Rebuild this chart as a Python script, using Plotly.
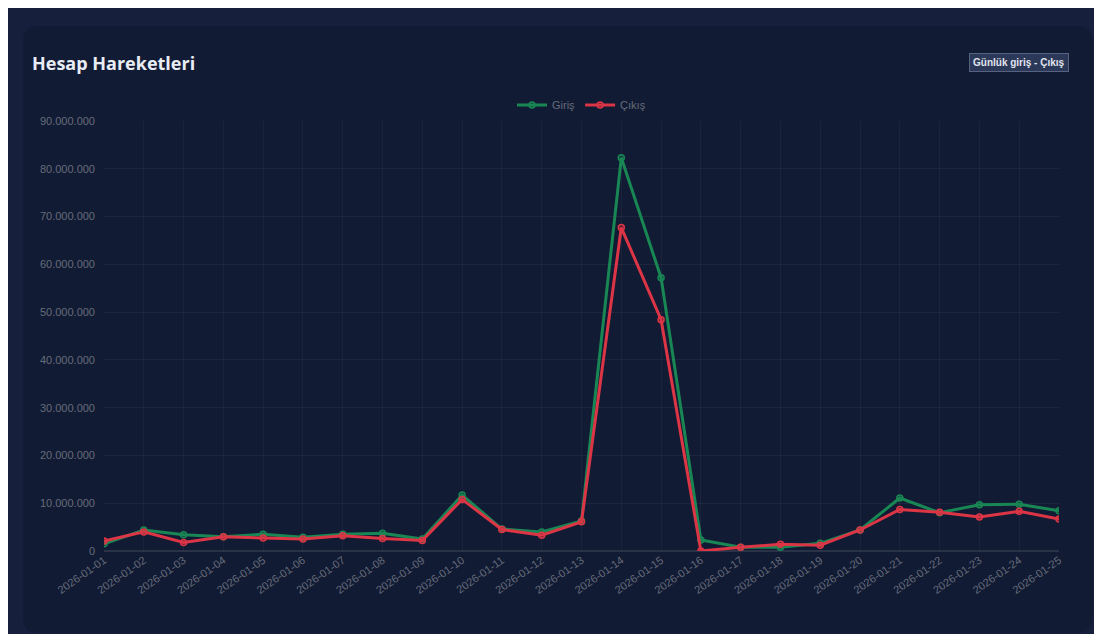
import re
import plotly.graph_objects as go

dates = ["2026-01-%02d" % d for d in range(1, 26)]
giris = [1.5, 4.4, 3.4, 3.0, 3.5, 2.9, 3.5, 3.7, 2.5, 11.7, 4.6, 4.0, 6.3, 82.3, 57.2,
         2.3, 0.8, 0.8, 1.6, 4.4, 11.1, 8.0, 9.7, 9.8, 8.4]
cikis = [2.1, 4.0, 1.8, 3.0, 2.7, 2.5, 3.2, 2.6, 2.2, 10.8, 4.5, 3.3, 6.1, 67.7, 48.4,
         0.0, 0.8, 1.4, 1.2, 4.4, 8.7, 8.1, 7.1, 8.3, 6.7]
giris = [v * 1e6 for v in giris]
cikis = [v * 1e6 for v in cikis]

fig = go.Figure()
fig.add_trace(go.Scatter(x=dates, y=giris, name="Giriş", mode="lines+markers",
                         line=dict(color="#198754", width=3),
                         marker=dict(size=6, color="rgba(25,135,84,0.3)", line=dict(color="#198754", width=1.5))))
fig.add_trace(go.Scatter(x=dates, y=cikis, name="Çıkış", mode="lines+markers",
                         line=dict(color="#dc3545", width=3),
                         marker=dict(size=6, color="rgba(220,53,69,0.3)", line=dict(color="#dc3545", width=1.5))))

# card background (pixel coords, converted to paper below)
W, H = 1102, 634
L, R, T, B = 96, 51, 113, 91
pw, ph = W - L - R, H - T - B
card = "M 31,18 L 1069,18 Q 1085,18 1085,34 L 1085,609 Q 1085,625 1069,625 L 31,625 Q 15,625 15,609 L 15,34 Q 15,18 31,18 Z"
out = []
for tok in re.split(r"(\d+,\d+)", card):
    if re.fullmatch(r"\d+,\d+", tok):
        a, b = map(int, tok.split(","))
        out.append("%.4f,%.4f" % ((a - L) / pw, (H - B - b) / ph))
    else:
        out.append(tok)
fig.add_shape(type="path", path="".join(out), xref="paper", yref="paper", layer="below",
              fillcolor="rgba(18,27,52,0.95)", line=dict(width=0))

fig.update_layout(
    width=W, height=H,
    paper_bgcolor="#16203d", plot_bgcolor="rgba(0,0,0,0)",
    margin=dict(l=L, r=R, t=T, b=B, autoexpand=False),
    separators=",.",
    font=dict(family="Liberation Sans, Arial", color="#666c7a", size=11),
    showlegend=True,
    legend=dict(orientation="h", x=0.5, xanchor="center", y=1.037, yanchor="middle",
                font=dict(size=11, color="#666c7a"), bgcolor="rgba(0,0,0,0)"),
    xaxis=dict(type="category", range=[0, 24], tickangle=-35, showgrid=True,
               gridcolor="rgba(255,255,255,0.04)", zeroline=False, showline=False,
               tickfont=dict(size=11), ticks="", automargin=False),
    yaxis=dict(range=[0, 90e6], dtick=10e6, tickformat=",d", showgrid=True,
               gridcolor="rgba(255,255,255,0.05)", zeroline=True, zerolinecolor="rgba(255,255,255,0.1)",
               tickfont=dict(size=11), ticks="", ticklabelstandoff=8, automargin=False),
    annotations=[
        dict(text="<b>Hesap Hareketleri</b>", xref="paper", yref="paper", x=(22 - L) / pw,
             y=(H - B - 55) / ph, xanchor="left", yanchor="middle", showarrow=False,
             font=dict(size=18, color="#e8ecf4", family="Open Sans, Arial")),
        dict(text="<b>Günlük giriş - Çıkış</b>", xref="paper", yref="paper", x=(1061 - L) / pw,
             y=(H - B - 54) / ph, xanchor="right", yanchor="middle", showarrow=False,
             font=dict(size=10, color="#e0e4ee"), bgcolor="#2c3858",
             bordercolor="#56627f", borderwidth=1, borderpad=3),
    ],
)

fig.write_html("out.html")
